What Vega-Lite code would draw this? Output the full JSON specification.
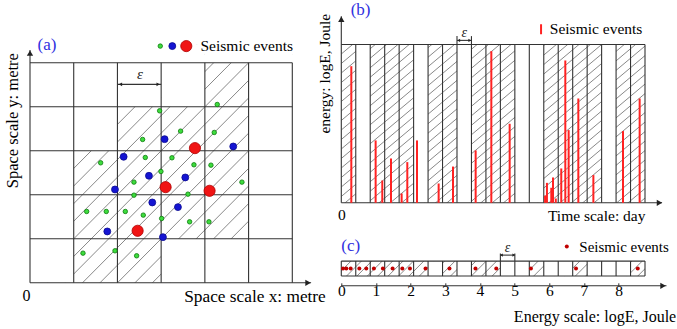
{
  "$schema": "https://vega.github.io/schema/vega-lite/v6.json",
  "padding": {"left": 4, "top": 0.5, "right": 0, "bottom": 0},
  "bounds": "flush",
  "spacing": 48.3,
  "resolve": {
    "scale": {"color": "independent", "size": "independent", "stroke": "independent", "shape": "independent"},
    "legend": {"color": "independent", "size": "independent", "stroke": "independent", "shape": "independent"}
  },
  "config": {
    "font": "Liberation Serif",
    "view": {"stroke": null},
    "axis": {"grid": false, "titleFontWeight": "normal", "labelColor": "black", "titleColor": "black", "labelFontSize": 15.5, "titleFontSize": 15.5},
    "legend": {"labelFontSize": 15.5, "labelColor": "black", "padding": 0}
  },
  "datasets": {
    "hatchA": [
      {"x": 0, "y": -4, "x2": 6, "y2": 2}, {"x": 0, "y": -3.6, "x2": 6, "y2": 2.4}, {"x": 0, "y": -3.2, "x2": 6, "y2": 2.8},
      {"x": 0, "y": -2.8, "x2": 6, "y2": 3.2}, {"x": 0, "y": -2.4, "x2": 6, "y2": 3.6}, {"x": 0, "y": -2.0, "x2": 6, "y2": 4.0},
      {"x": 0, "y": -1.6, "x2": 6, "y2": 4.4}, {"x": 0, "y": -1.2, "x2": 6, "y2": 4.8}, {"x": 0, "y": -0.8, "x2": 6, "y2": 5.2},
      {"x": 0, "y": -0.4, "x2": 6, "y2": 5.6}, {"x": 0, "y": 0, "x2": 6, "y2": 6}, {"x": 0, "y": 0.4, "x2": 6, "y2": 6.4},
      {"x": 0, "y": 0.8, "x2": 6, "y2": 6.8}, {"x": 0, "y": 1.2, "x2": 6, "y2": 7.2}, {"x": 0, "y": 1.6, "x2": 6, "y2": 7.6},
      {"x": 0, "y": 2.0, "x2": 6, "y2": 8.0}
    ],
    "maskA": [
      {"x": 0, "x2": 1, "y": 0, "y2": 5.42}, {"x": 1, "x2": 2, "y": 3, "y2": 5.42}, {"x": 2, "x2": 3, "y": 4, "y2": 5.42},
      {"x": 3, "x2": 4, "y": 0, "y2": 1}, {"x": 3, "x2": 4, "y": 4, "y2": 5.42}, {"x": 4, "x2": 5, "y": 0, "y2": 1},
      {"x": 4, "x2": 5, "y": 5, "y2": 5.42}, {"x": 5, "x2": 6, "y": 0, "y2": 5.42}
    ],
    "gridA": [
      {"x": 0, "y": 0, "x2": 0, "y2": 5.29}, {"x": 1, "y": 0, "x2": 1, "y2": 5}, {"x": 2, "y": 0, "x2": 2, "y2": 5},
      {"x": 3, "y": 0, "x2": 3, "y2": 5}, {"x": 4, "y": 0, "x2": 4, "y2": 5}, {"x": 5, "y": 0, "x2": 5, "y2": 5},
      {"x": 6, "y": 0, "x2": 6, "y2": 5},
      {"x": 0, "y": 0, "x2": 6.43, "y2": 0}, {"x": 0, "y": 1, "x2": 6, "y2": 1}, {"x": 0, "y": 2, "x2": 6, "y2": 2},
      {"x": 0, "y": 3, "x2": 6, "y2": 3}, {"x": 0, "y": 4, "x2": 6, "y2": 4}, {"x": 0, "y": 5, "x2": 6, "y2": 5},
      {"x": 2, "y": 4.51, "x2": 3, "y2": 4.51}
    ],
    "axisHeadsA": [{"x": 6.36, "y": 0, "dir": "right"}, {"x": 0, "y": 5.22, "dir": "up"}],
    "bracketHeadsA": [{"x": 2.07, "y": 4.51, "dir": "left"}, {"x": 2.93, "y": 4.51, "dir": "right"}],
    "epsA": [{"x": 2.516, "y": 4.75, "t": "ε"}],
    "labelA": [{"x": 0.39, "y": 5.40, "t": "(a)"}],
    "legendSymbolsA": [{"x": 2.98, "y": 5.38, "c": "small"}, {"x": 3.255, "y": 5.38, "c": "medium"}, {"x": 3.575, "y": 5.38, "c": "large"}],
    "legendTextA": [{"x": 3.9, "y": 5.38, "t": "Seismic events"}],
    "pointsA": [
      {"x": 2.965, "y": 3.909, "c": "small"}, {"x": 4.283, "y": 4.053, "c": "small"}, {"x": 3.445, "y": 3.447, "c": "small"},
      {"x": 4.215, "y": 3.417, "c": "small"}, {"x": 2.576, "y": 3.258, "c": "small"}, {"x": 1.616, "y": 2.727, "c": "small"},
      {"x": 2.637, "y": 2.848, "c": "small"}, {"x": 3.247, "y": 2.841, "c": "small"}, {"x": 3.75, "y": 2.682, "c": "small"},
      {"x": 4.139, "y": 2.674, "c": "small"}, {"x": 2.995, "y": 2.53, "c": "small"}, {"x": 2.378, "y": 2.288, "c": "small"},
      {"x": 4.848, "y": 2.288, "c": "small"}, {"x": 2.378, "y": 1.992, "c": "small"}, {"x": 3.613, "y": 2.015, "c": "small"},
      {"x": 1.296, "y": 1.621, "c": "small"}, {"x": 1.745, "y": 1.621, "c": "small"}, {"x": 2.18, "y": 1.621, "c": "small"},
      {"x": 2.591, "y": 1.538, "c": "small"}, {"x": 3.011, "y": 1.462, "c": "small"}, {"x": 3.651, "y": 1.386, "c": "small"},
      {"x": 4.093, "y": 1.386, "c": "small"}, {"x": 1.212, "y": 0.674, "c": "small"}, {"x": 1.944, "y": 0.727, "c": "small"},
      {"x": 2.439, "y": 0.614, "c": "small"},
      {"x": 3.079, "y": 3.265, "c": "medium"}, {"x": 4.649, "y": 3.098, "c": "medium"}, {"x": 2.142, "y": 2.864, "c": "medium"},
      {"x": 2.721, "y": 2.432, "c": "medium"}, {"x": 3.552, "y": 2.394, "c": "medium"}, {"x": 1.944, "y": 2.121, "c": "medium"},
      {"x": 2.797, "y": 1.826, "c": "medium"}, {"x": 3.384, "y": 1.72, "c": "medium"}, {"x": 1.768, "y": 1.167, "c": "medium"},
      {"x": 3.041, "y": 1.038, "c": "medium"},
      {"x": 3.773, "y": 3.061, "c": "large"}, {"x": 3.102, "y": 2.174, "c": "large"}, {"x": 4.108, "y": 2.091, "c": "large"},
      {"x": 2.462, "y": 1.182, "c": "large"}
    ],
    "hatchB": [
      {"x": 0, "y": 9.4, "x2": 21, "y2": 25.5}, {"x": 0, "y": 8.8, "x2": 21, "y2": 24.9}, {"x": 0, "y": 8.2, "x2": 21, "y2": 24.3},
      {"x": 0, "y": 7.6, "x2": 21, "y2": 23.7}, {"x": 0, "y": 7.0, "x2": 21, "y2": 23.1}, {"x": 0, "y": 6.4, "x2": 21, "y2": 22.5},
      {"x": 0, "y": 5.8, "x2": 21, "y2": 21.9}, {"x": 0, "y": 5.2, "x2": 21, "y2": 21.3}, {"x": 0, "y": 4.6, "x2": 21, "y2": 20.7},
      {"x": 0, "y": 4.0, "x2": 21, "y2": 20.1}, {"x": 0, "y": 3.4, "x2": 21, "y2": 19.5}, {"x": 0, "y": 2.8, "x2": 21, "y2": 18.9},
      {"x": 0, "y": 2.2, "x2": 21, "y2": 18.3}, {"x": 0, "y": 1.6, "x2": 21, "y2": 17.7}, {"x": 0, "y": 1.0, "x2": 21, "y2": 17.1},
      {"x": 0, "y": 0.4, "x2": 21, "y2": 16.5}, {"x": 0, "y": -0.2, "x2": 21, "y2": 15.9}, {"x": 0, "y": -0.8, "x2": 21, "y2": 15.3},
      {"x": 0, "y": -1.4, "x2": 21, "y2": 14.7}, {"x": 0, "y": -2.0, "x2": 21, "y2": 14.1}, {"x": 0, "y": -2.6, "x2": 21, "y2": 13.5},
      {"x": 0, "y": -3.2, "x2": 21, "y2": 12.9}, {"x": 0, "y": -3.8, "x2": 21, "y2": 12.3}, {"x": 0, "y": -4.4, "x2": 21, "y2": 11.7},
      {"x": 0, "y": -5.0, "x2": 21, "y2": 11.1}, {"x": 0, "y": -5.6, "x2": 21, "y2": 10.5}, {"x": 0, "y": -6.2, "x2": 21, "y2": 9.9},
      {"x": 0, "y": -6.8, "x2": 21, "y2": 9.3}, {"x": 0, "y": -7.4, "x2": 21, "y2": 8.7}, {"x": 0, "y": -8.0, "x2": 21, "y2": 8.1},
      {"x": 0, "y": -8.6, "x2": 21, "y2": 7.5}, {"x": 0, "y": -9.2, "x2": 21, "y2": 6.9}, {"x": 0, "y": -9.8, "x2": 21, "y2": 6.3},
      {"x": 0, "y": -10.4, "x2": 21, "y2": 5.7}, {"x": 0, "y": -11.0, "x2": 21, "y2": 5.1}, {"x": 0, "y": -11.6, "x2": 21, "y2": 4.5},
      {"x": 0, "y": -12.2, "x2": 21, "y2": 3.9}, {"x": 0, "y": -12.8, "x2": 21, "y2": 3.3}, {"x": 0, "y": -13.4, "x2": 21, "y2": 2.7},
      {"x": 0, "y": -14.0, "x2": 21, "y2": 2.1}, {"x": 0, "y": -14.6, "x2": 21, "y2": 1.5}, {"x": 0, "y": -15.2, "x2": 21, "y2": 0.9},
      {"x": 0, "y": -15.8, "x2": 21, "y2": 0.3}
    ],
    "maskB": [
      {"x": 1, "x2": 2, "y": 0, "y2": 10}, {"x": 5, "x2": 6, "y": 0, "y2": 10}, {"x": 8, "x2": 9, "y": 0, "y2": 10},
      {"x": 12, "x2": 14, "y": 0, "y2": 10}, {"x": 18, "x2": 19, "y": 0, "y2": 10}
    ],
    "gridB": [
      {"x": 0, "y": 0, "x2": 0, "y2": 11.79}, {"x": 1, "y": 0, "x2": 1, "y2": 10}, {"x": 2, "y": 0, "x2": 2, "y2": 10},
      {"x": 3, "y": 0, "x2": 3, "y2": 10}, {"x": 4, "y": 0, "x2": 4, "y2": 10}, {"x": 5, "y": 0, "x2": 5, "y2": 10},
      {"x": 6, "y": 0, "x2": 6, "y2": 10}, {"x": 7, "y": 0, "x2": 7, "y2": 10}, {"x": 8, "y": 0, "x2": 8, "y2": 10.53},
      {"x": 9, "y": 0, "x2": 9, "y2": 10.53}, {"x": 10, "y": 0, "x2": 10, "y2": 10}, {"x": 11, "y": 0, "x2": 11, "y2": 10},
      {"x": 12, "y": 0, "x2": 12, "y2": 10}, {"x": 13, "y": 0, "x2": 13, "y2": 10}, {"x": 14, "y": 0, "x2": 14, "y2": 10},
      {"x": 15, "y": 0, "x2": 15, "y2": 10}, {"x": 16, "y": 0, "x2": 16, "y2": 10}, {"x": 17, "y": 0, "x2": 17, "y2": 10},
      {"x": 18, "y": 0, "x2": 18, "y2": 10}, {"x": 19, "y": 0, "x2": 19, "y2": 10}, {"x": 20, "y": 0, "x2": 20, "y2": 10},
      {"x": 21, "y": 0, "x2": 21, "y2": 10},
      {"x": 0, "y": 10, "x2": 21, "y2": 10}, {"x": 0, "y": 0, "x2": 22.18, "y2": 0},
      {"x": 8, "y": 10.26, "x2": 9, "y2": 10.26}
    ],
    "axisHeadsB": [{"x": 22.0, "y": 0, "dir": "right"}, {"x": 0, "y": 11.6, "dir": "up"}],
    "bracketHeadsB": [{"x": 8.12, "y": 10.26, "dir": "left"}, {"x": 8.88, "y": 10.26, "dir": "right"}],
    "epsB": [{"x": 8.5, "y": 10.74, "t": "ε"}],
    "labelB": [{"x": 1.33, "y": 12.17, "t": "(b)"}],
    "eventsB": [
      {"x": 0.692, "y": 8.63, "kind": "Seismic events"}, {"x": 2.374, "y": 3.94, "kind": "Seismic events"},
      {"x": 2.835, "y": 1.41, "kind": "Seismic events"}, {"x": 3.435, "y": 2.8, "kind": "Seismic events"},
      {"x": 4.172, "y": 0.59, "kind": "Seismic events"}, {"x": 4.564, "y": 2.57, "kind": "Seismic events"},
      {"x": 5.233, "y": 3.94, "kind": "Seismic events"}, {"x": 6.731, "y": 1.22, "kind": "Seismic events"},
      {"x": 7.722, "y": 2.29, "kind": "Seismic events"}, {"x": 9.29, "y": 3.31, "kind": "Seismic events"},
      {"x": 10.374, "y": 9.58, "kind": "Seismic events"}, {"x": 11.642, "y": 4.99, "kind": "Seismic events"},
      {"x": 14.09, "y": 0.46, "kind": "Seismic events"}, {"x": 14.22, "y": 1.26, "kind": "Seismic events"},
      {"x": 14.52, "y": 0.95, "kind": "Seismic events"}, {"x": 14.64, "y": 1.6, "kind": "Seismic events"},
      {"x": 14.83, "y": 0.27, "kind": "Seismic events"}, {"x": 15.21, "y": 2.17, "kind": "Seismic events"},
      {"x": 15.49, "y": 8.99, "kind": "Seismic events"}, {"x": 15.72, "y": 4.59, "kind": "Seismic events"},
      {"x": 16.39, "y": 6.59, "kind": "Seismic events"}, {"x": 17.43, "y": 1.75, "kind": "Seismic events"},
      {"x": 19.48, "y": 4.53, "kind": "Seismic events"}, {"x": 20.63, "y": 6.59, "kind": "Seismic events"}
    ],
    "hatchC": [
      {"x": -0.45, "y": 0, "x2": -0.02, "y2": 1}, {"x": -0.15, "y": 0, "x2": 0.28, "y2": 1}, {"x": 0.15, "y": 0, "x2": 0.58, "y2": 1},
      {"x": 0.45, "y": 0, "x2": 0.88, "y2": 1}, {"x": 0.75, "y": 0, "x2": 1.18, "y2": 1}, {"x": 1.05, "y": 0, "x2": 1.48, "y2": 1},
      {"x": 1.35, "y": 0, "x2": 1.78, "y2": 1}, {"x": 1.65, "y": 0, "x2": 2.08, "y2": 1}, {"x": 1.95, "y": 0, "x2": 2.38, "y2": 1},
      {"x": 2.25, "y": 0, "x2": 2.68, "y2": 1}, {"x": 2.55, "y": 0, "x2": 2.98, "y2": 1}, {"x": 2.85, "y": 0, "x2": 3.28, "y2": 1},
      {"x": 3.15, "y": 0, "x2": 3.58, "y2": 1}, {"x": 3.45, "y": 0, "x2": 3.88, "y2": 1}, {"x": 3.75, "y": 0, "x2": 4.18, "y2": 1},
      {"x": 4.05, "y": 0, "x2": 4.48, "y2": 1}, {"x": 4.35, "y": 0, "x2": 4.78, "y2": 1}, {"x": 4.65, "y": 0, "x2": 5.08, "y2": 1},
      {"x": 4.95, "y": 0, "x2": 5.38, "y2": 1}, {"x": 5.25, "y": 0, "x2": 5.68, "y2": 1}, {"x": 5.55, "y": 0, "x2": 5.98, "y2": 1},
      {"x": 5.85, "y": 0, "x2": 6.28, "y2": 1}, {"x": 6.15, "y": 0, "x2": 6.58, "y2": 1}, {"x": 6.45, "y": 0, "x2": 6.88, "y2": 1},
      {"x": 6.75, "y": 0, "x2": 7.18, "y2": 1}, {"x": 7.05, "y": 0, "x2": 7.48, "y2": 1}, {"x": 7.35, "y": 0, "x2": 7.78, "y2": 1},
      {"x": 7.65, "y": 0, "x2": 8.08, "y2": 1}, {"x": 7.95, "y": 0, "x2": 8.38, "y2": 1}, {"x": 8.25, "y": 0, "x2": 8.68, "y2": 1},
      {"x": 8.55, "y": 0, "x2": 8.98, "y2": 1}
    ],
    "maskC": [
      {"x": 2.5029, "x2": 2.92, "y": 0, "y2": 1}, {"x": 3.3371, "x2": 3.7543, "y": 0, "y2": 1},
      {"x": 4.5886, "x2": 5.4229, "y": 0, "y2": 1}, {"x": 5.84, "x2": 6.6743, "y": 0, "y2": 1},
      {"x": 7.0914, "x2": 8.3429, "y": 0, "y2": 1}
    ],
    "gridC": [
      {"x": 0, "y": 0, "x2": 0, "y2": 1}, {"x": 0.4171, "y": 0, "x2": 0.4171, "y2": 1}, {"x": 0.8343, "y": 0, "x2": 0.8343, "y2": 1},
      {"x": 1.2514, "y": 0, "x2": 1.2514, "y2": 1}, {"x": 1.6686, "y": 0, "x2": 1.6686, "y2": 1}, {"x": 2.0857, "y": 0, "x2": 2.0857, "y2": 1},
      {"x": 2.5029, "y": 0, "x2": 2.5029, "y2": 1}, {"x": 2.92, "y": 0, "x2": 2.92, "y2": 1}, {"x": 3.3371, "y": 0, "x2": 3.3371, "y2": 1},
      {"x": 3.7543, "y": 0, "x2": 3.7543, "y2": 1}, {"x": 4.1714, "y": 0, "x2": 4.1714, "y2": 1}, {"x": 4.5886, "y": 0, "x2": 4.5886, "y2": 1.51},
      {"x": 5.0057, "y": 0, "x2": 5.0057, "y2": 1.51}, {"x": 5.4229, "y": 0, "x2": 5.4229, "y2": 1}, {"x": 5.84, "y": 0, "x2": 5.84, "y2": 1},
      {"x": 6.2571, "y": 0, "x2": 6.2571, "y2": 1}, {"x": 6.6743, "y": 0, "x2": 6.6743, "y2": 1}, {"x": 7.0914, "y": 0, "x2": 7.0914, "y2": 1},
      {"x": 7.5086, "y": 0, "x2": 7.5086, "y2": 1}, {"x": 7.9257, "y": 0, "x2": 7.9257, "y2": 1}, {"x": 8.3429, "y": 0, "x2": 8.3429, "y2": 1},
      {"x": 8.76, "y": 0, "x2": 8.76, "y2": 1},
      {"x": 0, "y": 0, "x2": 8.76, "y2": 0}, {"x": 0, "y": 1, "x2": 8.76, "y2": 1},
      {"x": 0, "y": -0.65, "x2": 9.38, "y2": -0.65},
      {"x": 4.5886, "y": 1.4, "x2": 5.0057, "y2": 1.4}
    ],
    "axisHeadsC": [{"x": 9.28, "y": -0.65, "dir": "right"}],
    "bracketHeadsC": [{"x": 4.62, "y": 1.4, "dir": "left"}, {"x": 4.975, "y": 1.4, "dir": "right"}],
    "epsC": [{"x": 4.797, "y": 1.85, "t": "ε"}],
    "labelC": [{"x": 0.27, "y": 2.02, "t": "(c)"}],
    "dotsC": [
      {"x": 0.05, "y": 0.5, "kind": "Seismic events"}, {"x": 0.145, "y": 0.5, "kind": "Seismic events"},
      {"x": 0.27, "y": 0.5, "kind": "Seismic events"}, {"x": 0.52, "y": 0.5, "kind": "Seismic events"},
      {"x": 0.72, "y": 0.5, "kind": "Seismic events"}, {"x": 0.94, "y": 0.5, "kind": "Seismic events"},
      {"x": 1.2, "y": 0.5, "kind": "Seismic events"}, {"x": 1.48, "y": 0.5, "kind": "Seismic events"},
      {"x": 1.76, "y": 0.5, "kind": "Seismic events"}, {"x": 1.98, "y": 0.5, "kind": "Seismic events"},
      {"x": 2.43, "y": 0.5, "kind": "Seismic events"}, {"x": 3.12, "y": 0.5, "kind": "Seismic events"},
      {"x": 3.87, "y": 0.5, "kind": "Seismic events"}, {"x": 4.47, "y": 0.5, "kind": "Seismic events"},
      {"x": 5.47, "y": 0.5, "kind": "Seismic events"}, {"x": 6.77, "y": 0.5, "kind": "Seismic events"},
      {"x": 8.55, "y": 0.5, "kind": "Seismic events"}
    ]
  },
  "hconcat": [
    {
      "width": 262.3,
      "height": 238.3,
      "encoding": {
        "x": {"field": "x", "type": "quantitative", "scale": {"domain": [0, 6], "nice": false, "zero": false},
          "axis": {"title": "Space scale x: metre", "titleFontSize": 17.3, "labelFontSize": 16, "values": [0], "domain": false, "ticks": false, "labelAlign": "right", "labelDx": -3, "labelBaseline": "middle", "labelPadding": 13, "titleX": 295.3, "titleY": 14, "titleAlign": "right", "titleBaseline": "middle"}},
        "y": {"field": "y", "type": "quantitative", "scale": {"domain": [0, 5.416], "nice": false, "zero": false},
          "axis": {"title": "Space scale y: metre", "titleFontSize": 16.5, "labels": false, "ticks": false, "domain": false, "titleX": -17.7, "titleY": 75.7, "titleAngle": -90, "titleAlign": "center", "titleBaseline": "middle"}}
      },
      "layer": [
        {"data": {"name": "hatchA"}, "mark": {"type": "rule", "clip": true, "stroke": "#555555", "strokeWidth": 0.7}, "encoding": {"x2": {"field": "x2"}, "y2": {"field": "y2"}}},
        {"data": {"name": "maskA"}, "mark": {"type": "rect", "fill": "white"}, "encoding": {"x2": {"field": "x2"}, "y2": {"field": "y2"}}},
        {"data": {"name": "gridA"}, "mark": {"type": "rule", "stroke": "#333333", "strokeWidth": 1.1}, "encoding": {"x2": {"field": "x2"}, "y2": {"field": "y2"}}},
        {"data": {"name": "axisHeadsA"}, "mark": {"type": "point", "filled": true, "color": "#222222", "size": 40, "opacity": 1},
          "encoding": {"shape": {"field": "dir", "type": "nominal", "scale": {"domain": ["right", "up", "left"], "range": ["triangle-right", "triangle-up", "triangle-left"]}, "legend": null}}},
        {"data": {"name": "bracketHeadsA"}, "mark": {"type": "point", "filled": true, "color": "#222222", "size": 14, "opacity": 1},
          "encoding": {"shape": {"field": "dir", "type": "nominal", "scale": {"domain": ["right", "up", "left"], "range": ["triangle-right", "triangle-up", "triangle-left"]}, "legend": null}}},
        {"data": {"name": "epsA"}, "mark": {"type": "text", "fontSize": 15, "fontStyle": "italic", "color": "#222222"}, "encoding": {"text": {"field": "t"}}},
        {"data": {"name": "labelA"}, "mark": {"type": "text", "fontSize": 17, "color": "#3030e0", "baseline": "middle", "align": "center"}, "encoding": {"text": {"field": "t"}}},
        {"data": {"name": "legendTextA"}, "mark": {"type": "text", "fontSize": 15.5, "color": "black", "baseline": "middle", "align": "left"}, "encoding": {"text": {"field": "t"}}},
        {"data": {"name": "legendSymbolsA"}, "mark": {"type": "point", "filled": true, "strokeWidth": 0.8, "opacity": 1},
          "encoding": {
            "color": {"field": "c", "type": "nominal", "scale": {"domain": ["small", "medium", "large"], "range": ["#3ddc3d", "#1414d2", "#f01414"]}, "legend": null},
            "size": {"field": "c", "type": "nominal", "scale": {"type": "ordinal", "domain": ["small", "medium", "large"], "range": [20, 48, 125]}, "legend": null},
            "stroke": {"field": "c", "type": "nominal", "scale": {"domain": ["small", "medium", "large"], "range": ["#0c7a0c", "#0a0a90", "#b00000"]}, "legend": null}
          }},
        {"data": {"name": "pointsA"}, "mark": {"type": "point", "filled": true, "strokeWidth": 0.8, "opacity": 1},
          "encoding": {
            "color": {"field": "c", "type": "nominal", "scale": {"domain": ["small", "medium", "large"], "range": ["#3ddc3d", "#1414d2", "#f01414"]}, "legend": null},
            "size": {"field": "c", "type": "nominal", "scale": {"type": "ordinal", "domain": ["small", "medium", "large"], "range": [20, 48, 125]}, "legend": null},
            "stroke": {"field": "c", "type": "nominal", "scale": {"domain": ["small", "medium", "large"], "range": ["#0c7a0c", "#0a0a90", "#b00000"]}, "legend": null}
          }}
      ]
    },
    {
      "bounds": "flush",
      "spacing": 57.6,
      "resolve": {
        "scale": {"color": "independent", "size": "independent", "stroke": "independent", "shape": "independent"},
        "legend": {"color": "independent", "size": "independent", "stroke": "independent", "shape": "independent"}
      },
      "vconcat": [
        {
          "width": 303.7,
          "height": 158.3,
          "encoding": {
            "x": {"field": "x", "type": "quantitative", "scale": {"domain": [0, 21], "nice": false, "zero": false},
              "axis": {"title": "Time scale: day", "values": [0], "domain": false, "ticks": false, "labelAlign": "center", "labelBaseline": "middle", "labelPadding": 11.3, "titleX": 303.7, "titleY": 12.3, "titleAlign": "right", "titleBaseline": "middle"}},
            "y": {"field": "y", "type": "quantitative", "scale": {"domain": [0, 10], "nice": false, "zero": false},
              "axis": {"title": "energy: logE, Joule", "labels": false, "ticks": false, "domain": false, "titleX": -17.3, "titleY": 28.7, "titleAngle": -90, "titleAlign": "center", "titleBaseline": "middle"}}
          },
          "layer": [
            {"data": {"name": "hatchB"}, "mark": {"type": "rule", "clip": true, "stroke": "#555555", "strokeWidth": 0.7}, "encoding": {"x2": {"field": "x2"}, "y2": {"field": "y2"}}},
            {"data": {"name": "maskB"}, "mark": {"type": "rect", "fill": "white"}, "encoding": {"x2": {"field": "x2"}, "y2": {"field": "y2"}}},
            {"data": {"name": "gridB"}, "mark": {"type": "rule", "stroke": "#333333", "strokeWidth": 1.1}, "encoding": {"x2": {"field": "x2"}, "y2": {"field": "y2"}}},
            {"data": {"name": "axisHeadsB"}, "mark": {"type": "point", "filled": true, "color": "#222222", "size": 40, "opacity": 1},
              "encoding": {"shape": {"field": "dir", "type": "nominal", "scale": {"domain": ["right", "up", "left"], "range": ["triangle-right", "triangle-up", "triangle-left"]}, "legend": null}}},
            {"data": {"name": "bracketHeadsB"}, "mark": {"type": "point", "filled": true, "color": "#222222", "size": 10, "opacity": 1},
              "encoding": {"shape": {"field": "dir", "type": "nominal", "scale": {"domain": ["right", "up", "left"], "range": ["triangle-right", "triangle-up", "triangle-left"]}, "legend": null}}},
            {"data": {"name": "epsB"}, "mark": {"type": "text", "fontSize": 14, "fontStyle": "italic", "color": "#222222"}, "encoding": {"text": {"field": "t"}}},
            {"data": {"name": "labelB"}, "mark": {"type": "text", "fontSize": 17, "color": "#3030e0", "baseline": "middle", "align": "center"}, "encoding": {"text": {"field": "t"}}},
            {"data": {"name": "eventsB"}, "mark": {"type": "rule", "strokeWidth": 2},
              "encoding": {
                "y2": {"datum": 0},
                "color": {"field": "kind", "type": "nominal", "scale": {"domain": ["Seismic events"], "range": ["#ff2222"]},
                  "legend": {"title": null, "orient": "none", "legendX": 192, "legendY": -23, "symbolType": "M0,-1L0,1", "symbolSize": 100, "symbolStrokeWidth": 2, "labelOffset": 1, "labelLimit": 0}}
              }}
          ]
        },
        {
          "width": 303.7,
          "height": 24.7,
          "encoding": {
            "x": {"field": "x", "type": "quantitative", "scale": {"domain": [0, 8.76], "nice": false, "zero": false},
              "axis": {"title": "Energy scale: logE, Joule", "titleFontSize": 16, "values": [0, 1, 2, 3, 4, 5, 6, 7, 8], "format": "d", "domain": false, "ticks": true, "tickSize": -3, "tickColor": "#333333", "labelAlign": "center", "labelBaseline": "middle", "labelPadding": 8, "labelFlush": false, "titleX": 334.4, "titleY": 31, "titleAlign": "right", "titleBaseline": "middle"}},
            "y": {"field": "y", "type": "quantitative", "scale": {"domain": [-0.65, 1], "nice": false, "zero": false}, "axis": null}
          },
          "layer": [
            {"data": {"name": "hatchC"}, "mark": {"type": "rule", "clip": true, "stroke": "#555555", "strokeWidth": 0.7}, "encoding": {"x2": {"field": "x2"}, "y2": {"field": "y2"}}},
            {"data": {"name": "maskC"}, "mark": {"type": "rect", "fill": "white"}, "encoding": {"x2": {"field": "x2"}, "y2": {"field": "y2"}}},
            {"data": {"name": "gridC"}, "mark": {"type": "rule", "stroke": "#333333", "strokeWidth": 1.1}, "encoding": {"x2": {"field": "x2"}, "y2": {"field": "y2"}}},
            {"data": {"name": "axisHeadsC"}, "mark": {"type": "point", "filled": true, "color": "#222222", "size": 40, "opacity": 1},
              "encoding": {"shape": {"field": "dir", "type": "nominal", "scale": {"domain": ["right", "up", "left"], "range": ["triangle-right", "triangle-up", "triangle-left"]}, "legend": null}}},
            {"data": {"name": "bracketHeadsC"}, "mark": {"type": "point", "filled": true, "color": "#222222", "size": 10, "opacity": 1},
              "encoding": {"shape": {"field": "dir", "type": "nominal", "scale": {"domain": ["right", "up", "left"], "range": ["triangle-right", "triangle-up", "triangle-left"]}, "legend": null}}},
            {"data": {"name": "epsC"}, "mark": {"type": "text", "fontSize": 14, "fontStyle": "italic", "color": "#222222"}, "encoding": {"text": {"field": "t"}}},
            {"data": {"name": "labelC"}, "mark": {"type": "text", "fontSize": 17, "color": "#3030e0", "baseline": "middle", "align": "center"}, "encoding": {"text": {"field": "t"}}},
            {"data": {"name": "dotsC"}, "mark": {"type": "point", "filled": true, "size": 16, "opacity": 1},
              "encoding": {
                "color": {"field": "kind", "type": "nominal", "scale": {"domain": ["Seismic events"], "range": ["#c00000"]},
                  "legend": {"title": null, "orient": "none", "legendX": 218, "legendY": -22, "symbolType": "circle", "symbolSize": 16, "labelOffset": 5, "labelLimit": 0, "labelFontSize": 15}}
              }}
          ]
        }
      ]
    }
  ]
}
